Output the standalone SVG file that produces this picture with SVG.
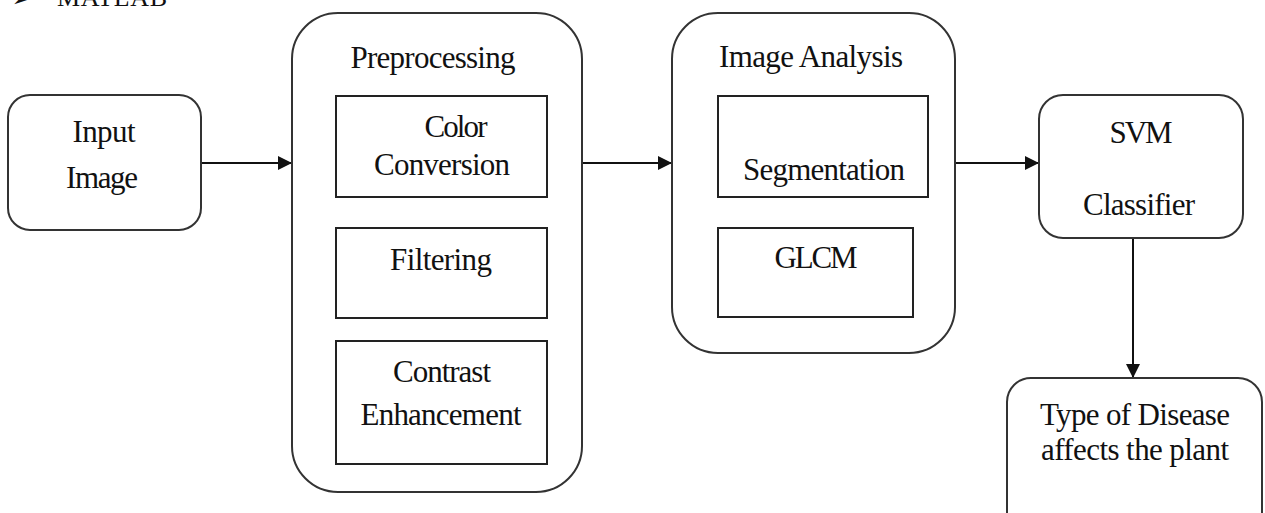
<svg xmlns="http://www.w3.org/2000/svg" width="1265" height="513" viewBox="0 0 1265 513">
<style>
.rbox{fill:#fff;stroke:#333;stroke-width:2}
.box{fill:#fff;stroke:#222;stroke-width:2}
.t{font-family:"Liberation Serif","Times New Roman",serif;font-size:31px;fill:#111;text-anchor:middle}
.conn{stroke:#111;stroke-width:2;fill:none}
</style>
<defs>
<marker id="ah" viewBox="0 0 14 14" refX="14" refY="7" markerWidth="14" markerHeight="14" markerUnits="userSpaceOnUse" orient="auto">
<path d="M0,0 L14,7 L0,14 Z" fill="#111"/>
</marker>
</defs>
<rect width="1265" height="513" fill="#fff"/>
<g id="header">
<text x="12" y="6" style="font-family:'DejaVu Sans',sans-serif;font-size:20px;fill:#111">➢</text>
<text x="57" y="6" style="font-family:'Liberation Serif',serif;font-size:26px;fill:#111" textLength="110">MATLAB</text>
</g>
<g id="connectors">
<line class="conn" x1="201" y1="163" x2="292" y2="163" marker-end="url(#ah)"/>
<line class="conn" x1="582" y1="163" x2="672" y2="163" marker-end="url(#ah)"/>
<line class="conn" x1="955" y1="163" x2="1039" y2="163" marker-end="url(#ah)"/>
<line class="conn" x1="1133" y1="238" x2="1133" y2="378" marker-end="url(#ah)"/>
</g>
<g id="input-image">
<rect class="rbox" x="8" y="95" width="193" height="135" rx="22"/>
<text class="t" x="104" y="142" textLength="63">Input</text>
<text class="t" x="102" y="188" textLength="72">Image</text>
</g>
<g id="preprocessing">
<rect class="rbox" x="292" y="13" width="290" height="479" rx="46"/>
<text class="t" x="433" y="68" textLength="165">Preprocessing</text>
</g>
<g id="color-conversion">
<rect class="box" x="336" y="96" width="211" height="101"/>
<text class="t" x="456" y="137" textLength="63">Color</text>
<text class="t" x="442" y="175" textLength="136">Conversion</text>
</g>
<g id="filtering">
<rect class="box" x="336" y="228" width="211" height="90"/>
<text class="t" x="441" y="270" textLength="102">Filtering</text>
</g>
<g id="contrast-enhancement">
<rect class="box" x="336" y="341" width="211" height="123"/>
<text class="t" x="442" y="382" textLength="98">Contrast</text>
<text class="t" x="441" y="425" textLength="161">Enhancement</text>
</g>
<g id="image-analysis">
<rect class="rbox" x="672" y="13" width="283" height="340" rx="46"/>
<text class="t" x="811" y="67" textLength="184">Image Analysis</text>
</g>
<g id="segmentation">
<rect class="box" x="718" y="96" width="210" height="101"/>
<text class="t" x="824" y="180" textLength="162">Segmentation</text>
</g>
<g id="glcm">
<rect class="box" x="718" y="228" width="195" height="89"/>
<text class="t" x="816" y="268" textLength="83">GLCM</text>
</g>
<g id="svm-classifier">
<rect class="rbox" x="1039" y="95" width="204" height="143" rx="24"/>
<text class="t" x="1141" y="143" textLength="63">SVM</text>
<text class="t" x="1139" y="215" textLength="112">Classifier</text>
</g>
<g id="disease-type">
<rect class="rbox" x="1007" y="378" width="255" height="160" rx="24"/>
<text class="t" x="1135" y="425" textLength="190">Type of Disease</text>
<text class="t" x="1135" y="460" textLength="188">affects the plant</text>
</g>
</svg>
